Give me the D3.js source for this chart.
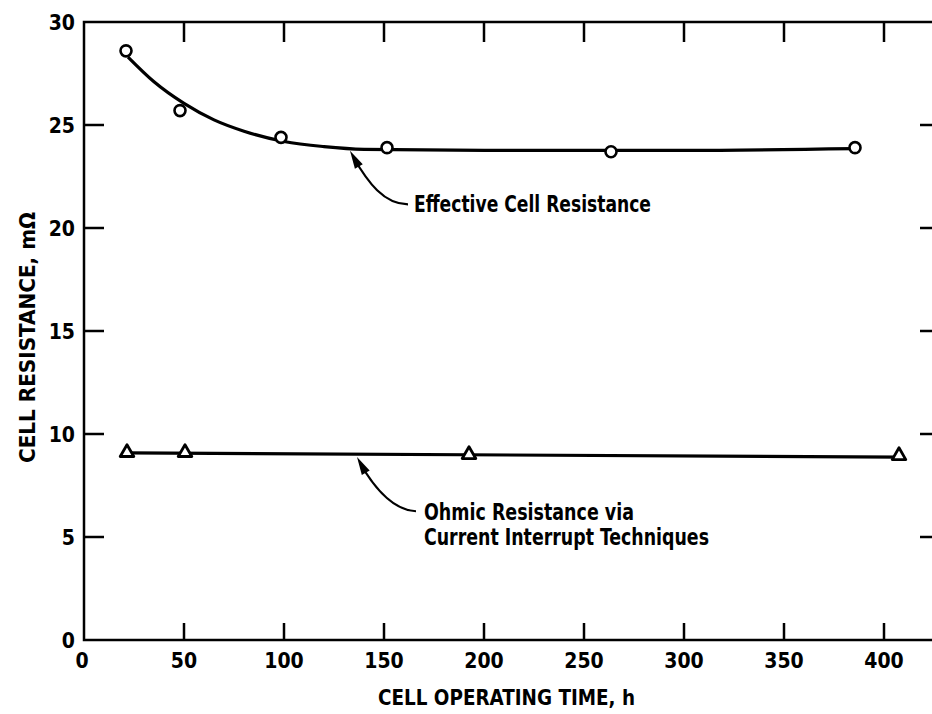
<!DOCTYPE html>
<html><head><meta charset="utf-8">
<script src="https://cdn.jsdelivr.net/npm/d3@7"></script>
<style>
body{margin:0;background:#fff;}
text{font-family:"DejaVu Sans Condensed","DejaVu Sans",sans-serif;font-weight:bold;fill:#000;}
</style></head>
<body><svg id="c" width="932" height="714"></svg>
<script>
// Data
const xTicks = [0,50,100,150,200,250,300,350,400];
const yTicks = [0,5,10,15,20,25,30];
// Effective cell resistance: measured points (h, mOhm)
const effX = [21, 48, 98.5, 151.5, 263.5, 385.5];
const effY = [28.6, 25.7, 24.4, 23.9, 23.7, 23.9];
// Effective cell resistance: hand-drawn fitted curve
const effCurveX = [22, 35, 50, 65, 80, 100, 120, 140, 200, 300, 385];
const effCurveY = [28.3, 27.1, 26.05, 25.25, 24.7, 24.2, 23.95, 23.82, 23.77, 23.77, 23.85];
// Ohmic resistance via current interrupt: measured points
const ohmX = [21.5, 50.5, 192.5, 407.5];
const ohmY = [9.05, 9.05, 8.95, 8.9];
// Ohmic fitted line
const ohmLineX = [22, 408];
const ohmLineY = [9.08, 8.88];

const svg = d3.select("#c");
const L = 84, R = 934, T = 22, B = 640;
const x = d3.scaleLinear().domain([0, 425]).range([L, R]);
const y = d3.scaleLinear().domain([0, 30]).range([B, T]);

// frame
svg.append("rect").attr("x", L).attr("y", T).attr("width", R - L).attr("height", B - T)
  .attr("fill", "none").attr("stroke", "#000").attr("stroke-width", 2.5);

// ticks (inward)
const inner = xTicks.filter(d => d > 0);
svg.append("g").selectAll("line").data(inner).join("line")
  .attr("x1", d => x(d)).attr("x2", d => x(d)).attr("y1", B).attr("y2", B - 17)
  .attr("stroke", "#000").attr("stroke-width", 2.5);
svg.append("g").selectAll("line").data(inner).join("line")
  .attr("x1", d => x(d)).attr("x2", d => x(d)).attr("y1", T).attr("y2", T + 20)
  .attr("stroke", "#000").attr("stroke-width", 2.5);
const yInner = yTicks.filter(d => d > 0 && d < 30);
svg.append("g").selectAll("line").data(yInner).join("line")
  .attr("x1", L).attr("x2", L + 20).attr("y1", d => y(d)).attr("y2", d => y(d))
  .attr("stroke", "#000").attr("stroke-width", 2.5);
svg.append("g").selectAll("line").data(yInner).join("line")
  .attr("x1", 920).attr("x2", R).attr("y1", d => y(d)).attr("y2", d => y(d))
  .attr("stroke", "#000").attr("stroke-width", 2.5);

// tick labels
svg.append("g").selectAll("text").data(xTicks).join("text")
  .attr("x", d => x(d) - (d === 0 ? 2 : 0)).attr("y", 668)
  .attr("text-anchor", "middle").attr("font-size", 21).text(d => d);
svg.append("g").selectAll("text").data(yTicks).join("text")
  .attr("x", 75).attr("y", d => y(d) + 8)
  .attr("text-anchor", "end").attr("font-size", 21).text(d => d);

// axis titles
svg.append("text").attr("x", 378).attr("y", 705)
  .attr("font-size", 22).attr("textLength", 257).attr("lengthAdjust", "spacingAndGlyphs")
  .text("CELL OPERATING TIME, h");
svg.append("text").attr("transform", "translate(35,463) rotate(-90)")
  .attr("font-size", 22).attr("textLength", 251).attr("lengthAdjust", "spacingAndGlyphs")
  .text("CELL RESISTANCE, mΩ");

// curves
const line = d3.line().x(d => x(d[0])).y(d => y(d[1]));
svg.append("path").datum(effCurveX.map((d, i) => [d, effCurveY[i]]))
  .attr("d", line.curve(d3.curveMonotoneX)).attr("fill", "none").attr("stroke", "#000").attr("stroke-width", 3.2);
svg.append("path").datum(ohmLineX.map((d, i) => [d, ohmLineY[i]]))
  .attr("d", d3.line().x(d => x(d[0])).y(d => y(d[1]))).attr("fill", "none").attr("stroke", "#000").attr("stroke-width", 3.2);

// markers
svg.append("g").selectAll("circle").data(effX.map((d, i) => [d, effY[i]])).join("circle")
  .attr("cx", d => x(d[0])).attr("cy", d => y(d[1])).attr("r", 5.5)
  .attr("fill", "#fff").attr("stroke", "#000").attr("stroke-width", 2.6);
const tri = d3.symbol().type(d3.symbolTriangle).size(80);
svg.append("g").selectAll("path").data(ohmX.map((d, i) => [d, ohmY[i]])).join("path")
  .attr("d", tri).attr("transform", d => `translate(${x(d[0])},${y(d[1]) - 1})`)
  .attr("fill", "#fff").attr("stroke", "#000").attr("stroke-width", 2.8).attr("stroke-linejoin", "round");

// annotations
function arrow(tip, tail, c1, c2) {
  const [tx, ty] = [x(tip[0]), y(tip[1])];
  const [ax, ay] = [x(tail[0]), y(tail[1])];
  svg.append("path")
    .attr("d", `M${ax},${ay} C${x(c1[0])},${y(c1[1])} ${x(c2[0])},${y(c2[1])} ${tx + 3},${ty + 6}`)
    .attr("fill", "none").attr("stroke", "#000").attr("stroke-width", 2.2);
  const ang = Math.atan2(ty - y(c2[1]), tx - x(c2[0]));
  const len = 18, w = 4.5;
  const bx = tx - len * Math.cos(ang), by = ty - len * Math.sin(ang);
  const px = -Math.sin(ang) * w, py = Math.cos(ang) * w;
  svg.append("path").attr("d", `M${tx},${ty} L${bx + px},${by + py} L${bx - px},${by - py} Z`).attr("fill", "#000");
}
arrow([133, 23.75], [162, 21.15], [150, 21.15], [142, 22.2]);
svg.append("text").attr("x", x(165)).attr("y", y(21.15) + 8).attr("font-size", 23)
  .attr("textLength", 237).attr("lengthAdjust", "spacingAndGlyphs")
  .text("Effective Cell Resistance");

arrow([136.5, 8.88], [166, 6.25], [154, 6.3], [145, 7.4]);
svg.append("text").attr("x", x(170)).attr("y", y(6.25) + 9).attr("font-size", 23)
  .attr("textLength", 210).attr("lengthAdjust", "spacingAndGlyphs")
  .text("Ohmic Resistance via");
svg.append("text").attr("x", x(170)).attr("y", y(6.25) + 34).attr("font-size", 23)
  .attr("textLength", 285).attr("lengthAdjust", "spacingAndGlyphs")
  .text("Current Interrupt Techniques");
</script></body></html>
